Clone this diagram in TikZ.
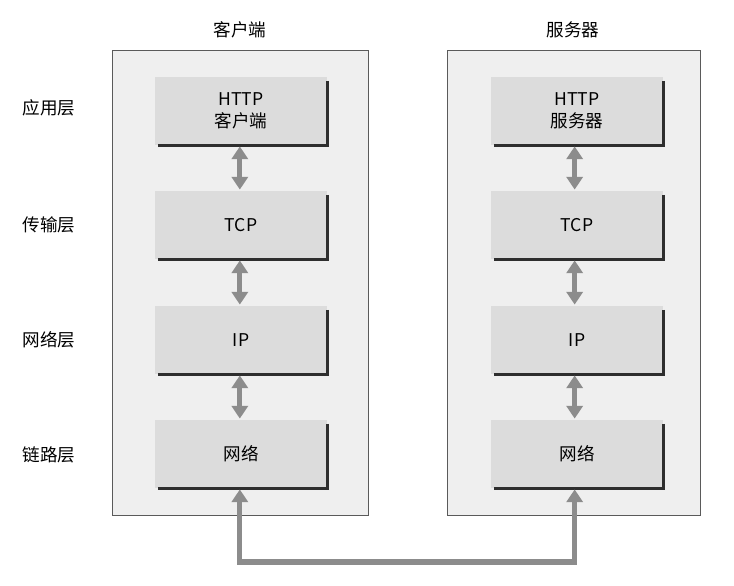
\documentclass[tikz,border=0pt]{standalone}
\usepackage{fontspec}
\setmainfont{Noto Sans CJK SC}
\definecolor{FrameGrey}{HTML}{EFEFEF}
\definecolor{BoxGrey}{HTML}{DCDCDC}
\definecolor{EdgeGrey}{HTML}{5A5A5A}
\definecolor{ShadowGrey}{HTML}{2E2E2E}
\definecolor{ArrowGrey}{HTML}{8C8C8C}
\usetikzlibrary{arrows.meta, positioning, calc}

\begin{document}
\begin{tikzpicture}[
        x=0.03cm, y=-0.03cm,
        frame/.style={draw=EdgeGrey, fill=FrameGrey, line width=0.6pt, minimum width=7.68cm, minimum height=13.95cm, inner sep=0pt},
        box/.style={fill=BoxGrey, minimum width=5.16cm, minimum height=2.04cm, align=center, inner sep=0pt, font=\fontsize{15}{19}\selectfont},
        edge/.style={draw=ShadowGrey, line width=2.2pt},
        title/.style={font=\fontsize{15}{18}\selectfont},
        layer/.style={font=\fontsize{15}{18}\selectfont},
        arr/.style={{Triangle[length=3.8mm, width=4.8mm]}-{Triangle[length=3.8mm, width=4.8mm]}, line width=4.4pt, ArrowGrey, shorten <=1pt, shorten >=1pt}
    ]
        \useasboundingbox (0,0) rectangle (734,585);

        % frames and titles
        \node[frame] (cf) at (240,282.5) {};
        \node[frame, minimum width=7.59cm] (sf) at (573.5,282.5) {};
        \node[title] (ct) at (240,30) {客户端};
        \node[title] (st) at (573,30) {服务器};

        % layer names
        \node[layer] (l1) at (49,108) {应用层};
        \node[layer] (l2) at (49,225) {传输层};
        \node[layer] (l3) at (49,340) {网络层};
        \node[layer] (l4) at (49,455) {链路层};

        % client stack
        \node[box] (c1) at (241,111) {HTTP\\客户端};
        \node[box] (c2) at (241,225) {TCP};
        \node[box] (c3) at (241,340) {IP};
        \node[box] (c4) at (241,454) {网络};

        % server stack
        \node[box] (s1) at (577,111) {HTTP\\服务器};
        \node[box] (s2) at (577,225) {TCP};
        \node[box] (s3) at (577,340) {IP};
        \node[box] (s4) at (577,454) {网络};

        \foreach \n in {c1,c2,c3,c4,s1,s2,s3,s4}
            \draw[edge] ($(\n.north east)+(0,4)$) -- (\n.south east) -- ($(\n.south west)+(3,0)$);

        \draw[arr] ([xshift=-1pt]c1.south) -- ([xshift=-1pt]c2.north);
        \draw[arr] ([xshift=-1pt]c2.south) -- ([xshift=-1pt]c3.north);
        \draw[arr] ([xshift=-1pt]c3.south) -- ([xshift=-1pt]c4.north);
        \draw[arr] ([xshift=-2pt]s1.south) -- ([xshift=-2pt]s2.north);
        \draw[arr] ([xshift=-2pt]s2.south) -- ([xshift=-2pt]s3.north);
        \draw[arr] ([xshift=-2pt]s3.south) -- ([xshift=-2pt]s4.north);

        % link between the two hosts
        \coordinate (bus) at (408,562);
        \draw[arr] ([xshift=-1pt]c4.south) |- (bus) -| ([xshift=-2pt]s4.south);
    \end{tikzpicture}
\end{document}
